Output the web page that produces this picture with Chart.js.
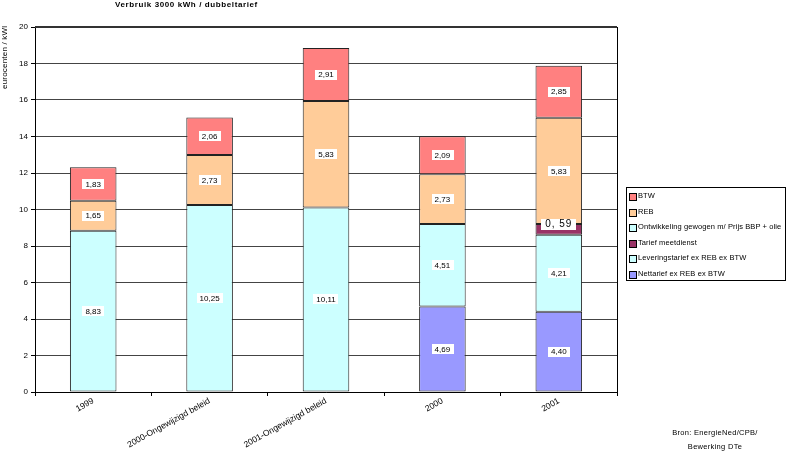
<!DOCTYPE html>
<html>
<head>
<meta charset="utf-8">
<script src="https://cdn.jsdelivr.net/npm/chart.js@4/dist/chart.umd.min.js"></script>
<style>
  body { margin: 0; background: #fff; }
  #wrap { position: relative; width: 808px; height: 451px; font-family: "Liberation Sans", Arial, sans-serif; }
  #title { position: absolute; left: 115px; top: 0px; font-size: 8px; font-weight: bold; letter-spacing: 0.6px; color: #000; white-space: nowrap; }
  #ytitle { position: absolute; left: 0px; top: 27px; width: 62px; height: 10px; font-size: 8px; line-height: 10px; letter-spacing: 0.2px; white-space: nowrap; text-align: right;
            transform-origin: 0 0; transform: translate(0px, 62px) rotate(-90deg); }
  #legend { position: absolute; left: 626px; top: 187px; width: 158px; height: 92px; border: 1px solid #000; box-sizing: content-box; font-size: 7.5px; letter-spacing: 0.1px; overflow: hidden; }
  .item { position: relative; height: 14.5px; line-height: 14.5px; padding-left: 11px; white-space: nowrap; margin-top: 1px; }
  .sw { position: absolute; left: 2px; top: 4px; width: 6px; height: 6px; border: 1px solid #000; }
  #source { position: absolute; left: 640px; width: 150px; top: 426px; text-align: center; font-size: 7.5px; letter-spacing: 0.3px; line-height: 14px; }
</style>
</head>
<body>
<div id="wrap">
  <canvas id="chart" width="808" height="451"></canvas>
  <div id="title">Verbruik 3000 kWh / dubbeltarief</div>
  <div id="ytitle">eurocenten / kWl</div>
  <div id="legend"></div>
  <div id="source">Bron: EnergieNed/CPB/<br>Bewerking DTe</div>
</div>
<script>
// Chart data
const categories = ['1999', '2000-Ongewijzigd beleid', '2001-Ongewijzigd beleid', '2000', '2001'];
const nettarief = [null, null, null, 4.69, 4.40];
const leveringstarief = [null, null, null, 4.51, 4.21];
const meetdienst = [null, null, null, null, 0.59];
const ontwikkeling = [8.83, 10.25, 10.11, null, null];
const reb = [1.65, 2.73, 5.83, 2.73, 5.83];
const btw = [1.83, 2.06, 2.91, 2.09, 2.85];
const yTicks = [0, 2, 4, 6, 8, 10, 12, 14, 16, 18, 20];

const FONT = '"Liberation Sans", Arial, sans-serif';

// Stack order bottom -> top
const series = [
    { label: 'Nettarief ex REB ex BTW', data: nettarief, color: '#9999FF' },
    { label: 'Leveringstarief ex REB ex BTW', data: leveringstarief, color: '#CCFFFF' },
    { label: 'Tarief meetdienst', data: meetdienst, color: '#993366' },
    { label: 'Ontwikkeling gewogen m/ Prijs BBP + olie', data: ontwikkeling, color: '#CCFFFF' },
    { label: 'REB', data: reb, color: '#FFCC99' },
    { label: 'BTW', data: btw, color: '#FF8080' }
];

// Legend (top -> bottom is reverse of stack)
const legend = document.getElementById('legend');
legend.innerHTML = series.slice().reverse().map(s => `
    <div class="item"><span class="sw" style="background:${s.color}"></span>${s.label}</div>
`).join('');

// Value labels in white boxes
const valueLabels = {
    id: 'valueLabels',
    afterDatasetsDraw(chart) {
        const ctx = chart.ctx;
        chart.data.datasets.forEach((ds, i) => {
            const meta = chart.getDatasetMeta(i);
            meta.data.forEach((bar, j) => {
                const v = ds.data[j];
                if (v == null) return;
                const { x, y, base } = bar.getProps(['x', 'y', 'base'], true);
                const small = ds.label === 'Tarief meetdienst';
                const text = small ? v.toFixed(2).replace('.', ', ') : v.toFixed(2).replace('.', ',');
                ctx.save();
                ctx.font = (small ? '10px ' : '8px ') + FONT;
                if (small) ctx.letterSpacing = '1px';
                const w = ctx.measureText(text).width;
                const cy = small ? y : (y + base) / 2;
                const bw = small ? w + 8 : w + 6;
                const bh = small ? 11 : 10;
                ctx.fillStyle = '#fff';
                ctx.fillRect(Math.round(x - bw / 2), Math.round(cy - bh / 2), Math.round(bw), bh);
                ctx.fillStyle = '#000';
                ctx.textAlign = 'center';
                ctx.textBaseline = 'middle';
                ctx.fillText(text, x, cy + 0.5);
                ctx.restore();
            });
        });
    }
};

// Top and right frame of plot area
const plotFrame = {
    id: 'plotFrame',
    afterDraw(chart) {
        const { ctx, chartArea: a } = chart;
        ctx.save();
        ctx.strokeStyle = '#000';
        ctx.lineWidth = 1;
        ctx.beginPath();
        ctx.moveTo(a.right + 0.5, a.top);
        ctx.lineTo(a.right + 0.5, a.bottom);
        ctx.stroke();
        ctx.strokeStyle = '#333';
        ctx.lineWidth = 2;
        ctx.beginPath();
        ctx.moveTo(a.left, a.top);
        ctx.lineTo(a.right, a.top);
        ctx.stroke();
        ctx.restore();
    }
};

new Chart(document.getElementById('chart').getContext('2d'), {
    type: 'bar',
    data: {
        labels: categories,
        datasets: series.map(s => ({
            label: s.label,
            data: s.data,
            backgroundColor: s.color,
            borderColor: '#222',
            borderWidth: 1,
            borderSkipped: false,
            categoryPercentage: 1,
            barPercentage: 0.4
        }))
    },
    options: {
        responsive: false,
        animation: false,
        devicePixelRatio: 1,
        layout: { padding: { top: 27, right: 191, left: 0, bottom: 0 } },
        plugins: {
            legend: { display: false },
            title: { display: false },
            tooltip: { enabled: false }
        },
        scales: {
            x: {
                stacked: true,
                afterFit: (s) => { s.height = 59; },
                border: { color: '#000', width: 1 },
                grid: { offset: true, drawOnChartArea: false, drawTicks: true, tickLength: 4, tickColor: '#000' },
                ticks: {
                    color: '#000',
                    font: { family: FONT, size: 8.5 },
                    minRotation: 29,
                    maxRotation: 29,
                    autoSkip: false,
                    padding: 0
                }
            },
            y: {
                stacked: true,
                min: 0,
                max: 20,
                afterFit: (s) => { s.width = 35; },
                afterBuildTicks: (s) => { s.ticks = yTicks.map(v => ({ value: v })); },
                border: { color: '#000', width: 1 },
                grid: { color: '#444', lineWidth: 1, drawTicks: true, tickLength: 4, tickColor: '#000' },
                ticks: {
                    color: '#000',
                    font: { family: FONT, size: 8 },
                    padding: 3
                }
            }
        }
    },
    plugins: [valueLabels, plotFrame]
});
</script>
</body>
</html>
